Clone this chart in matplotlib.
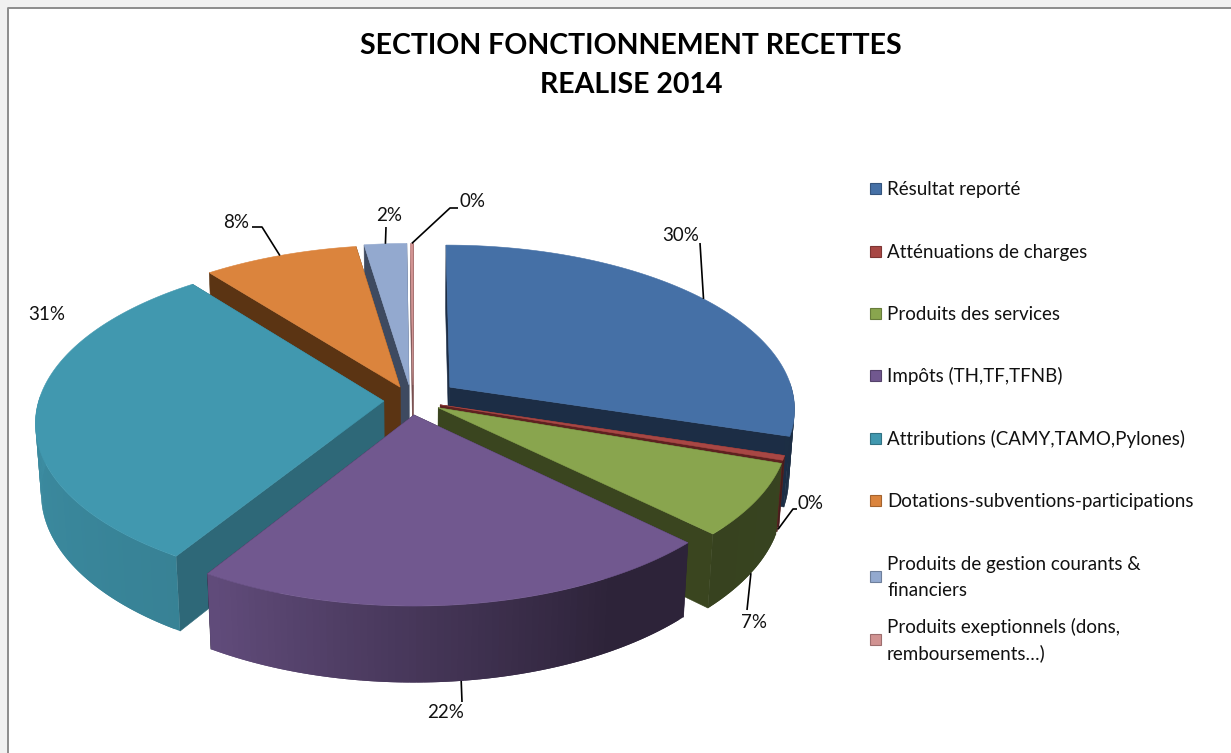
import numpy as np
import matplotlib
matplotlib.use("Agg")
import matplotlib.pyplot as plt
from matplotlib.patches import Rectangle

# ---- data ----
categories = ["Résultat reporté", "Atténuations de charges", "Produits des services",
              "Impôts (TH,TF,TFNB)", "Attributions (CAMY,TAMO,Pylones)",
              "Dotations-subventions-participations",
              "Produits de gestion courants &\nfinanciers",
              "Produits exeptionnels (dons,\nremboursements…)"]
values = [29.8, 0.45, 7.05, 21.55, 30.55, 8.2, 2.25, 0.15]
title = "SECTION FONCTIONNEMENT RECETTES\nREALISE 2014"

# ---- styles ----
top_colors = ["#4570A6", "#A84744", "#89A54E", "#71588F", "#4198AF", "#DB843D", "#93A9CF", "#D19392"]
cut_colors = ["#1C2D45", "#5E2120", "#3A451F", "#2B2038", "#2E6878", "#5B3413", "#3E4A60", "#7A5050"]
explode_x = [35, 25, 23, -1, -31, -15, -6, -2]
explode_y = [12.5, -25, -31, -46, -17, 12.5, 17, 17]
paint_order = [7, 6, 5, 0, 1, 4, 2, 3]

CX, CY = 415.0, 393.0
R, A, K, D, C = 343.0, 0.47, 0.125, 70.0, 0.015

plt.rcParams["font.family"] = ["Lato", "DejaVu Sans"]
fig = plt.figure(figsize=(12.31, 7.53), dpi=100, facecolor="white")
ax = fig.add_axes([0, 0, 1, 1])
ax.set_xlim(0, 1231)
ax.set_ylim(753, 0)
ax.axis("off")

# window frame
ax.add_patch(Rectangle((0, 0), 1231, 7, fc="#F1F1F1", ec="none"))
ax.add_patch(Rectangle((0, 0), 7, 753, fc="#F1F1F1", ec="none"))
ax.plot([7.5, 7.5, 1231], [753, 7.5, 7.5], color="#8C8C8C", lw=1.4, solid_capstyle="butt")


def proj(X, Y, z=0.0):
    w = 1 + K * Y / R + C * z
    return CX + X / w, CY - A * Y / w + D * z / w


def shade(theta):
    return np.interp(theta, [0, 150, 210, 270, 360], [0.42, 0.40, 0.85, 0.92, 0.90])


def darken(hexc, f):
    return tuple(c * f for c in matplotlib.colors.to_rgb(hexc))


total = sum(values)
edges = np.concatenate([[0], np.cumsum(values)]) / total * 360.0
offsets = list(zip(explode_x, explode_y))


def rim(i, th, z=0.0):
    t = np.radians(th)
    ox, oy = offsets[i]
    return proj(ox + R * np.sin(t), oy + R * np.cos(t), z)


for i in paint_order:
    a0, a1 = edges[i], edges[i + 1]
    ox, oy = offsets[i]
    col = top_colors[i]
    # radial cut walls
    for th in (a0, a1):
        rr = [proj(ox, oy, 0), rim(i, th, 0), rim(i, th, 1), proj(ox, oy, 1)]
        ax.fill(*zip(*rr), fc=cut_colors[i], ec=cut_colors[i], lw=0.4, zorder=3)
    # outer wall: only the front-facing part, shaded strip by strip (strips overlap to hide seams)
    lo, hi = max(a0, 88.0), min(a1, 272.0)
    if hi > lo:
        n = max(1, int((hi - lo) / 1.0))
        ths = np.linspace(lo, hi, n + 1)
        for t0, t1 in zip(ths[:-1], ths[1:]):
            t1x = min(t1 + 1.0, hi)
            tt = np.linspace(t0, t1x, 4)
            q = [rim(i, t, 0) for t in tt] + [rim(i, t, 1) for t in tt[::-1]]
            c = darken(col, float(shade((t0 + t1) / 2)))
            ax.fill(*zip(*q), fc=c, ec="none", lw=0, zorder=3)
    # top face
    arc = [rim(i, t, 0) for t in np.linspace(a0, a1, max(6, int((a1 - a0) * 2)))]
    poly = [proj(ox, oy, 0)] + arc
    ax.fill(*zip(*poly), fc=col, ec=col, lw=0.4, zorder=3)

# percentage labels with leader lines (elbow, label position)
label_layout = [
    (0, 0.0, [(700, 243)], (681, 235)),
    (1, 1.0, [(793, 509), (797, 509)], (811, 503)),
    (2, 1.0, [(747, 610)], (754, 623)),
    (3, 1.0, [(462, 702)], (446, 713)),
    (4, None, [], (47, 314)),
    (5, 0.0, [(262, 227), (252, 227)], (236, 222)),
    (6, 0.0, [(386, 227)], (389, 215)),
    (7, 0.0, [(450, 208), (458, 208)], (473, 201)),
]
for i, z, elbow, pos in label_layout:
    txt = f"{values[i] / total * 100:.0f}%"
    ax.text(pos[0], pos[1], txt, ha="center", va="center", fontsize=13.5, color="#111111", zorder=6)
    if z is not None:
        start = rim(i, (edges[i] + edges[i + 1]) / 2, z)
        pts = [start] + elbow
        ax.plot(*zip(*pts), color="black", lw=1.2, zorder=5, solid_capstyle="butt")

# legend
legend_y = [188, 251, 313, 375, 438, 500, 576.5, 639]
for name, y, c in zip(categories, legend_y, top_colors):
    ax.add_patch(Rectangle((870, y - 5.5), 11, 11, fc=c, ec=darken(c, 0.75), lw=0.8, zorder=4))
    ax.text(887, y + 1, name, ha="left", va="center", fontsize=13.5, color="#111111",
            linespacing=1.58, zorder=4)

ax.text(631, 65.5, title, ha="center", va="center", fontsize=20.5, fontweight="bold",
        color="black", linespacing=1.66)

fig.savefig("out.png", dpi=100)
